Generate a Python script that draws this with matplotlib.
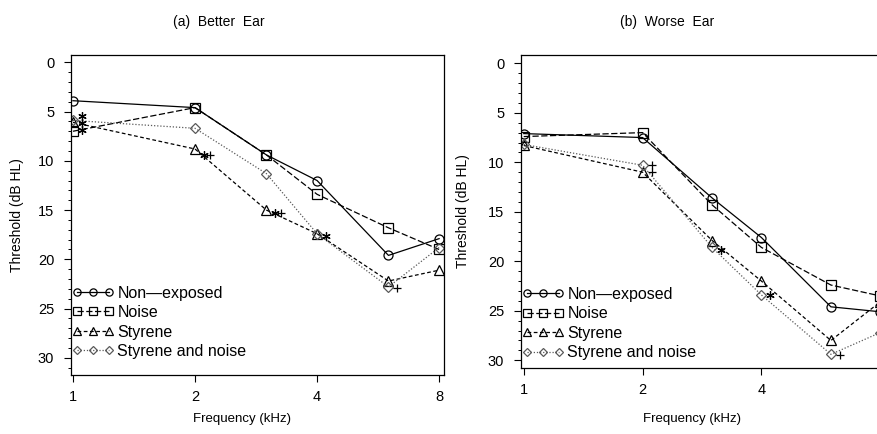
import matplotlib
matplotlib.use("Agg")
import matplotlib.pyplot as plt
from matplotlib.ticker import MultipleLocator, NullLocator, FixedLocator, FixedFormatter
from matplotlib.transforms import ScaledTranslation

plt.rcParams['font.family'] = ['Liberation Sans', 'DejaVu Sans']

# frequencies (kHz)
freqs = [1, 2, 3, 4, 6, 8]

# (a) better ear, threshold dB HL
better_nonexp = [3.9, 4.6, 9.4, 12.0, 19.6, 17.9]
better_noise = [7.0, 4.6, 9.4, 13.4, 16.8, 19.0]
better_styrene = [6.1, 8.8, 15.0, 17.4, 22.2, 21.1]
better_sty_noise = [5.9, 6.7, 11.3, 17.4, 22.8, 18.8]

# (b) worse ear
worse_nonexp = [7.1, 7.5, 13.6, 17.6, 24.6, 25.1]
worse_noise = [7.4, 7.0, 14.3, 18.6, 22.4, 23.5]
worse_styrene = [8.3, 11.0, 17.9, 22.0, 28.0, 24.1]
worse_sty_noise = [8.2, 10.3, 18.6, 23.4, 29.4, 27.2]

# significance marks next to points (freq, dB, symbols)
better_sig_f = [1, 1, 1, 2, 3, 4, 6]
better_sig_db = [5.5, 6.2, 6.9, 9.4, 15.3, 17.6, 22.9]
better_sig_sym = ['*', '*', '*', '*+', '*+', '*', '+']

worse_sig_f = [2, 2, 3, 4, 6]
worse_sig_db = [10.3, 11.0, 18.9, 23.4, 29.5]
worse_sig_sym = ['+', '+', '*', '*', '+']

labels = ['Non\u2014exposed', 'Noise', 'Styrene', 'Styrene and noise']
markers = ['o', 's', '^', 'D']
lstyles = ['-', (0, (5, 2)), (0, (3, 2)), (0, (1, 1.5))]
colors = ['black', 'black', 'black', '0.35']
msizes = [6.5, 6.5, 6.5, 5]

W, H = 878, 434
fig = plt.figure(figsize=(W / 100, H / 100), dpi=100)


def px_axes(l, t, r, b):
    return fig.add_axes([l / W, 1 - b / H, (r - l) / W, (b - t) / H])


def draw(ax, series, sig_f, sig_db, sig_sym, ylim, xlim, xticks, leg_y):
    for y, lab, m, ls, c, ms in zip(series, labels, markers, lstyles, colors, msizes):
        ax.plot(freqs, y, linestyle=ls, color=c, lw=0.9, marker=m, ms=ms,
                mfc='none', mec=c, mew=0.9, label=lab)
    for f, d, s in zip(sig_f, sig_db, sig_sym):
        for i, ch in enumerate(s):
            off = ScaledTranslation((9 + 6 * i) / 100, 0, fig.dpi_scale_trans)
            mk = (6, 2, 0) if ch == '*' else '+'
            ax.plot([f], [d], linestyle='none', marker=mk, ms=6, mew=0.9,
                    color='black', transform=ax.transData + off, clip_on=False)
    ax.set_xscale('log', base=2)
    ax.set_xlim(*xlim)
    ax.xaxis.set_major_locator(FixedLocator(xticks))
    ax.xaxis.set_major_formatter(FixedFormatter([str(t) for t in xticks]))
    ax.xaxis.set_minor_locator(NullLocator())
    ax.set_ylim(*ylim)
    ax.yaxis.set_major_locator(MultipleLocator(5))
    ax.yaxis.set_minor_locator(MultipleLocator(1))
    ax.tick_params(which='major', direction='out', length=5, width=0.8,
                   labelsize=10.5, pad=7)
    ax.tick_params(axis='x', pad=5.5)
    ax.tick_params(which='minor', direction='out', length=2.5, width=0.7)
    ax.tick_params(top=False, right=False)
    for sp in ax.spines.values():
        sp.set_linewidth(0.9)
    ax.set_ylabel('Threshold (dB HL)', fontsize=10)
    ax.set_xlabel('Frequency (kHz)', fontsize=9.5)
    ax.legend(loc='lower left', bbox_to_anchor=(0.0, leg_y), frameon=False,
              numpoints=3, fontsize=11.5, handlelength=2.55, handletextpad=0.25,
              labelspacing=0.28, borderaxespad=0, borderpad=0.1, markerscale=0.8)


ax1 = px_axes(71, 55, 444, 375)
draw(ax1, [better_nonexp, better_noise, better_styrene, better_sty_noise],
     better_sig_f, better_sig_db, better_sig_sym,
     (31.74, -0.74), (2 ** -0.016, 2 ** 3.04), [1, 2, 4, 8], 0.045)
ax1.yaxis.set_label_coords(-0.125, 0.5)
ax1.xaxis.set_label_coords(0.458, -0.119)

# right panel runs past the right edge of the picture
ax2 = px_axes(521, 55, 885, 368)
draw(ax2, [worse_nonexp, worse_noise, worse_styrene, worse_sty_noise],
     worse_sig_f, worse_sig_db, worse_sig_sym,
     (30.78, -0.84), (2 ** -0.023, 2 ** 3.04), [1, 2, 4], 0.02)
ax2.yaxis.set_label_coords(-0.14, 0.5)
ax2.xaxis.set_label_coords(0.47, -0.144)

fig.text(219 / W, 1 - 22 / H, '(a)  Better  Ear', ha='center', va='center', fontsize=10)
fig.text(667 / W, 1 - 22 / H, '(b)  Worse  Ear', ha='center', va='center', fontsize=10)

fig.savefig('out.png', dpi=100)
